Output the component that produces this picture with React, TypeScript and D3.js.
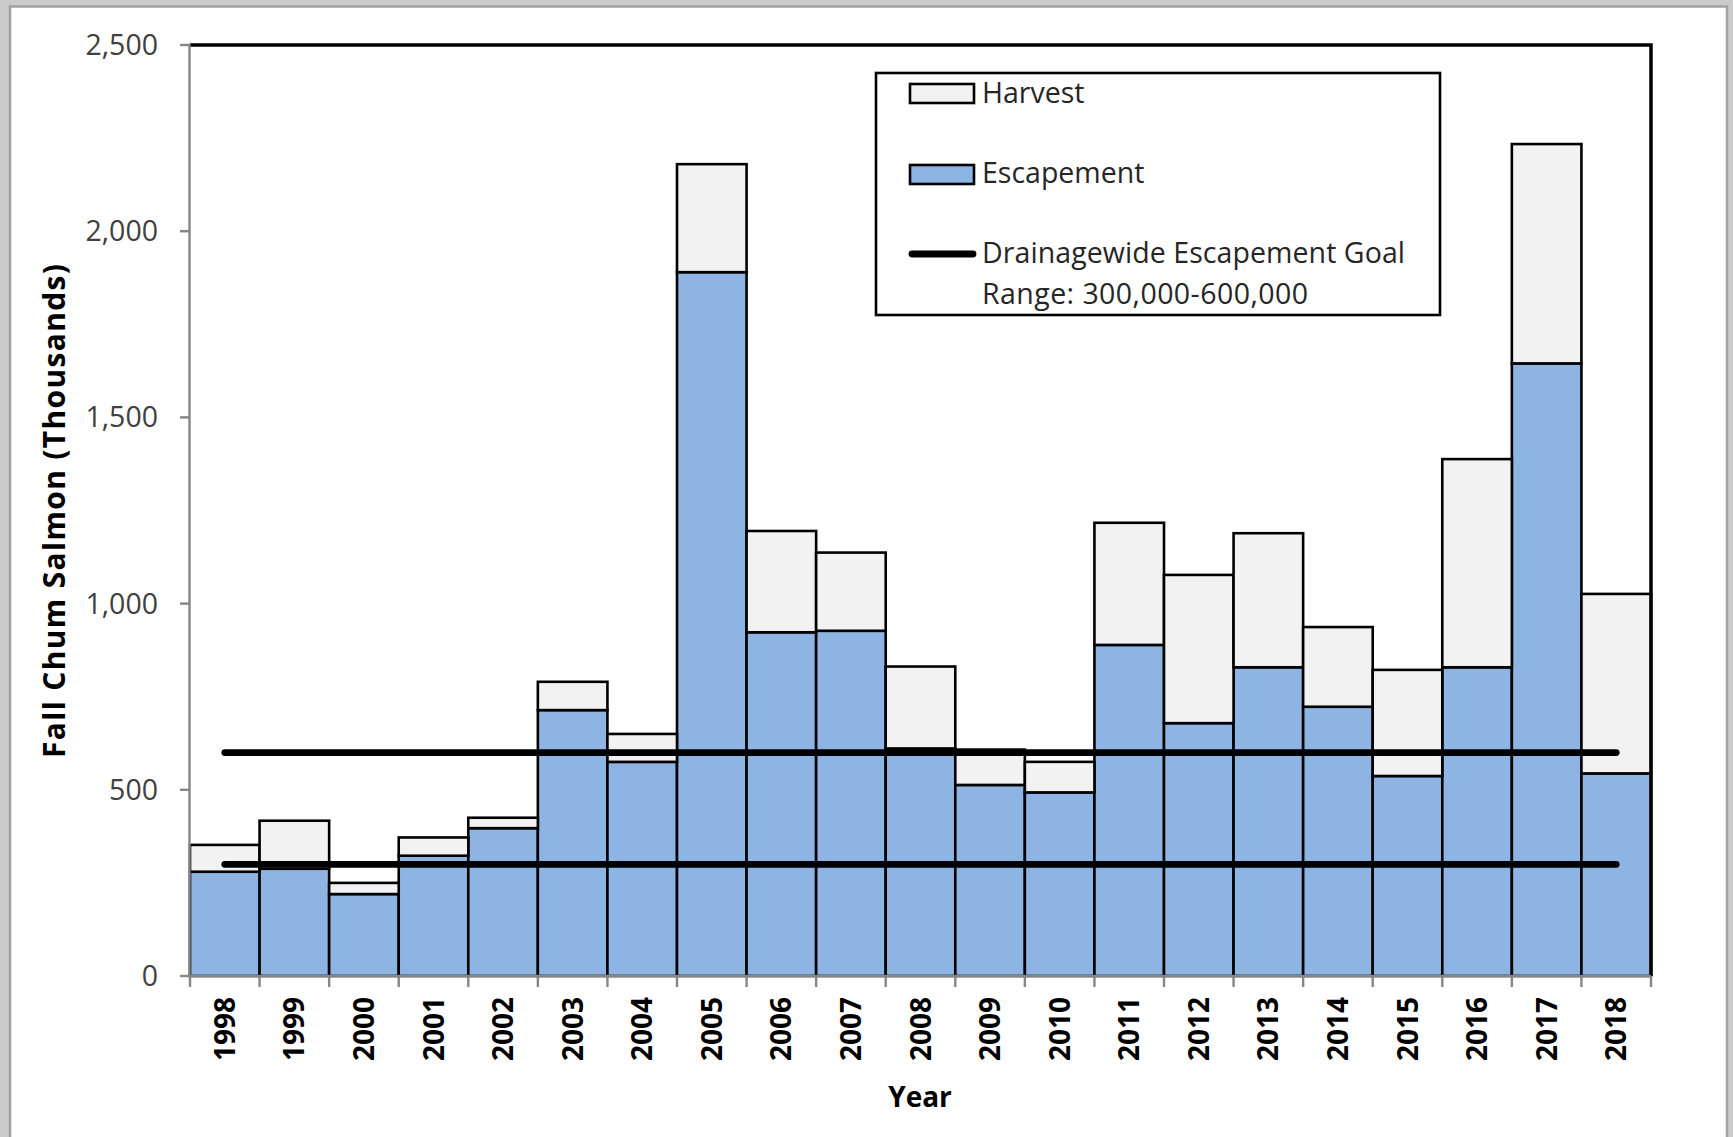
import React from 'react';
import * as d3 from 'd3';

const years = ['1998', '1999', '2000', '2001', '2002', '2003', '2004', '2005', '2006', '2007', '2008', '2009', '2010', '2011', '2012', '2013', '2014', '2015', '2016', '2017', '2018'];
const escapement = [280, 288, 220, 323, 397, 714, 575, 1890, 923, 927, 611, 513, 493, 889, 679, 829, 723, 537, 829, 1645, 544];
const harvest = [72, 129, 30, 49, 28, 76, 75, 290, 272, 210, 220, 95, 82, 328, 398, 360, 214, 285, 559, 589, 482];
const goalRange = [300, 600];
const yTicks = [0, 500, 1000, 1500, 2000, 2500];
const seriesKeys = ['Escapement', 'Harvest'];
const seriesColors = ['#8EB4E3', '#F2F2F2'];
const legendLabels = ['Harvest', 'Escapement', 'Drainagewide Escapement Goal', 'Range: 300,000-600,000'];
const yTitle = 'Fall Chum Salmon (Thousands)';
const xTitle = 'Year';

const W = 1733;
const H = 1137;
const P = { left: 190, right: 1651, top: 45, bottom: 976 };
const FONT = "'Open Sans', 'DejaVu Sans', sans-serif";

export default function App() {
  const x = d3.scaleBand<string>().domain(years).range([P.left, P.right]).padding(0);
  const y = d3.scaleLinear().domain([0, 2500]).range([P.bottom, P.top]);
  const bw = x.bandwidth();
  const rows = years.map((yr, i) => ({ year: yr, Escapement: escapement[i], Harvest: harvest[i] }));
  const stacked = d3.stack<any>().keys(seriesKeys)(rows);
  const lineGen = d3.line<[number, number]>().x((d) => d[0]).y((d) => d[1]);
  const x0 = (x(years[0]) as number) + bw / 2;
  const x1 = (x(years[years.length - 1]) as number) + bw / 2;

  return (
    <svg width={W} height={H} style={{ position: 'absolute', left: 0, top: 0 }} fontFamily={FONT}>
      <rect x={0} y={0} width={W} height={H} fill="#cbcbcb" />
      <rect x={10} y={6.5} width={1717} height={H + 10} fill="#ffffff" stroke="#a2a2a2" strokeWidth={2.5} />

      {/* bars */}
      {stacked.map((s, si) => (
        <g key={seriesKeys[si]}>
          {s.map((d, i) => (
            <rect
              key={years[i]}
              x={x(years[i])}
              y={y(d[1])}
              width={bw}
              height={y(d[0]) - y(d[1])}
              fill={seriesColors[si]}
              stroke="#000"
              strokeWidth={2.6}
            />
          ))}
        </g>
      ))}

      {/* goal lines */}
      {goalRange.map((g) => (
        <path
          key={g}
          d={lineGen([[x0, y(g)], [x1, y(g)]]) as string}
          stroke="#000"
          strokeWidth={6.8}
          strokeLinecap="round"
          fill="none"
        />
      ))}

      {/* plot border top/right */}
      <path d={`M${P.left},${P.top} H${P.right} V${P.bottom}`} fill="none" stroke="#000" strokeWidth={3.5} />

      {/* y axis */}
      <line x1={P.left - 0.5} x2={P.left - 0.5} y1={P.top - 1} y2={P.bottom} stroke="#868686" strokeWidth={2.4} />
      {yTicks.map((t) => (
        <g key={t}>
          <line x1={180} x2={P.left} y1={y(t)} y2={y(t)} stroke="#868686" strokeWidth={2.4} />
          <text x={158} y={y(t) + 10} textAnchor="end" fontSize={28.5} fill="#404040">
            {d3.format(',')(t)}
          </text>
        </g>
      ))}

      {/* x axis */}
      <line x1={P.left - 1.5} x2={P.right} y1={P.bottom} y2={P.bottom} stroke="#868686" strokeWidth={2.4} />
      {[...years.map((yr) => x(yr) as number), P.right].map((bx, i) => (
        <line key={i} x1={bx} x2={bx} y1={P.bottom} y2={987} stroke="#868686" strokeWidth={2.4} />
      ))}
      {years.map((yr) => {
        const cx = (x(yr) as number) + bw / 2;
        return (
          <text
            key={yr}
            transform={`translate(${cx + 10},997) rotate(-90)`}
            textAnchor="end"
            fontSize={28}
            fontWeight="bold"
            fill="#000"
          >
            {yr}
          </text>
        );
      })}

      {/* axis titles */}
      <text x={920} y={1107} textAnchor="middle" fontSize={28} fontWeight="bold" fill="#000">
        {xTitle}
      </text>
      <text
        transform="translate(65,511) rotate(-90)"
        textAnchor="middle"
        fontSize={30}
        fontWeight="bold"
        fill="#000"
        textLength={494}
      >
        {yTitle}
      </text>

      {/* legend */}
      <rect x={876} y={73} width={564} height={242} fill="#fff" stroke="#000" strokeWidth={2.6} />
      <rect x={910} y={84} width={64} height={19} fill={seriesColors[1]} stroke="#000" strokeWidth={2.6} />
      <rect x={910} y={165} width={64} height={19} fill={seriesColors[0]} stroke="#000" strokeWidth={2.6} />
      <line x1={912} x2={973} y1={254} y2={254} stroke="#000" strokeWidth={6.8} strokeLinecap="round" />
      <text x={982} y={103} fontSize={28.5} fill="#262626">{legendLabels[0]}</text>
      <text x={982} y={183} fontSize={28.5} fill="#262626">{legendLabels[1]}</text>
      <text x={982} y={263} fontSize={28.5} fill="#262626" textLength={423}>{legendLabels[2]}</text>
      <text x={982} y={304} fontSize={28.5} fill="#262626" textLength={326}>{legendLabels[3]}</text>
    </svg>
  );
}
